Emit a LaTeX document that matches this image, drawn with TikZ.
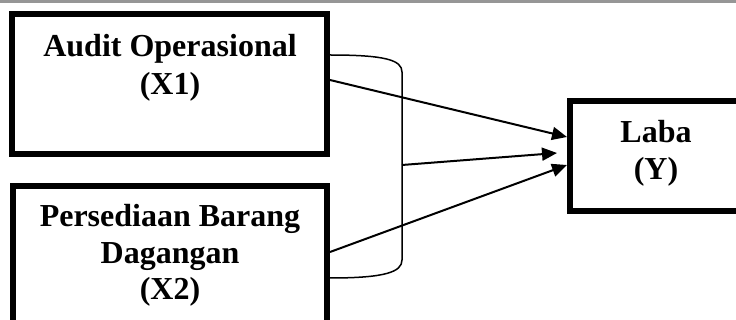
\documentclass[tikz,border=0pt]{standalone}
\usepackage{fontspec}
\setmainfont{Liberation Serif}
\usetikzlibrary{arrows.meta}
\tikzset{
  box/.style={draw=black, line width=6pt, rectangle, inner sep=0pt},
  lbl/.style={font=\fontsize{32}{37}\selectfont\bfseries, inner sep=0pt, anchor=base},
  conn/.style={draw=black, line width=2pt, -{Triangle[length=15pt,width=13pt]}},
  brace/.style={draw=black, line width=1.5pt}
}
\begin{document}
\begin{tikzpicture}[x=1pt,y=-1pt]
\useasboundingbox (0,0) rectangle (736,320);
\clip (0,0) rectangle (736,320);
\fill[fill={rgb,255:red,150;green,150;blue,150}] (0,0) rectangle (736,2.6);
% boxes
\node[box, minimum width=315pt, minimum height=140pt] (b1) at (169.5,84) {};
\node[box, minimum width=314pt, minimum height=160pt] (b2) at (170,266) {};
\node[box, minimum width=175pt, minimum height=109.5pt] (b3) at (657.5,156.25) {};
% labels
\node[lbl] (t1a) at (170,57) {Audit Operasional};
\node[lbl] (t1b) at (170,95) {(X1)};
\node[lbl] (t2a) at (170,227) {Persediaan Barang};
\node[lbl] (t2b) at (170,264) {Dagangan};
\node[lbl] (t2c) at (170,300) {(X2)};
\node[lbl] (t3a) at (656,143) {Laba};
\node[lbl] (t3b) at (656,180) {(Y)};
% bracket
\coordinate (bt) at (b1.east |- 0,55);
\coordinate (bb) at (b2.east |- 0,278);
\coordinate (bm) at (402,165);
\draw[brace] (bt) .. controls (385,55) and (402,60) .. (402,72) -- (402,260) .. controls (402,272) and (385,278) .. (bb);
% arrows
\coordinate (s1) at (b1.east |- 0,80);
\coordinate (s2) at (b2.east |- 0,252);
\coordinate (e1) at (b3.west |- 0,137);
\coordinate (e2) at (557,153);
\coordinate (e3) at (b3.west |- 0,165);
\draw[conn] (s1) -- (e1);
\draw[conn] (bm) -- (e2);
\draw[conn] (s2) -- (e3);
\end{tikzpicture}
\end{document}
